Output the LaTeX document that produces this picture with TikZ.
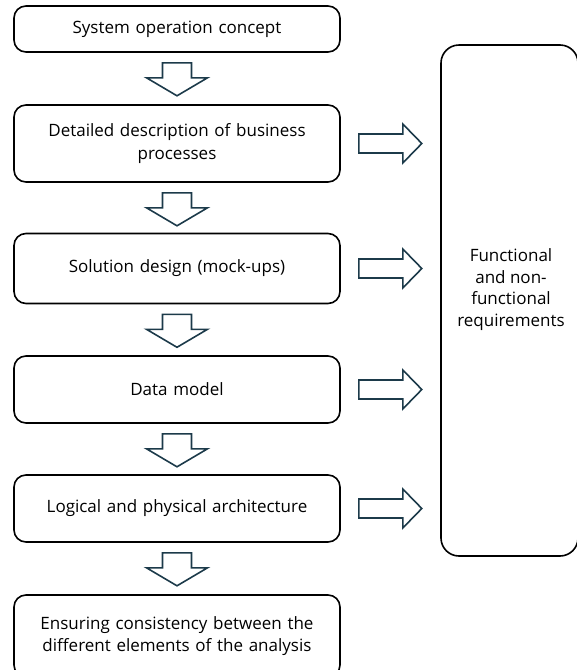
\documentclass[tikz,border=0pt]{standalone}
\usepackage{fontspec}
\setmainfont{Open Sans}
\definecolor{arrowteal}{HTML}{1C3A4A}
\tikzset{
  stage/.style={draw=black,line width=1.6pt,rounded corners=12pt,
    minimum width=326pt,text width=310pt,align=center,inner sep=0pt,
    font=\fontsize{17}{22.5}\selectfont},
  blockarrow/.style={draw=arrowteal,line width=1.6pt,line join=miter}
}
% hollow block arrows, placed from the box they leave
\newcommand{\blockdown}[1]{%
  \draw[blockarrow] ([shift={(-14.5,10)}]#1.south) -- ++(0,15) -- ++(-16,0)
    -- ++(30.5,18) -- ++(30.5,-18) -- ++(-16,0) -- ++(0,-15) -- cycle;}
\newcommand{\blockright}[1]{%
  \draw[blockarrow] ([shift={(18,-9.5)}]#1.east) -- ++(44,0) -- ++(0,-10)
    -- ++(19,19.5) -- ++(-19,19.5) -- ++(0,-10) -- ++(-44,0) -- cycle;}
\begin{document}
\begin{tikzpicture}[x=1pt,y=-1pt]
\useasboundingbox (0,0) rectangle (577,670);
% steps of the analysis
\node (s1) [stage,minimum height=46pt] at (177,29) {System operation concept};
\node (s2) [stage,minimum height=77pt] at (177,143.5) {Detailed description of business\\processes};
\node (s3) [stage,minimum height=70pt] at (177,268.5) {Solution design (mock-ups)};
\node (s4) [stage,minimum height=67pt] at (177,389.5) {Data model};
\node (s5) [stage,minimum height=67pt] at (177,508.5) {Logical and physical architecture};
\node (s6) [stage,minimum height=82pt] at (177,636) {Ensuring consistency between the\\different elements of the analysis};
%
\blockdown{s1}
\blockdown{s2}
\blockdown{s3}
\blockdown{s4}
\blockdown{s5}
% requirements box
\node (req) [draw=black,line width=1.6pt,rounded corners=18pt,
  minimum width=137pt,minimum height=511pt] at (509.5,300.5) {};
\node (reqtext) [align=center,font=\fontsize{17}{21.7}\selectfont] at (511,289.5)
  {Functional\\and non-\\functional\\requirements};
%
\blockright{s2}
\blockright{s3}
\blockright{s4}
\blockright{s5}
\end{tikzpicture}
\end{document}
